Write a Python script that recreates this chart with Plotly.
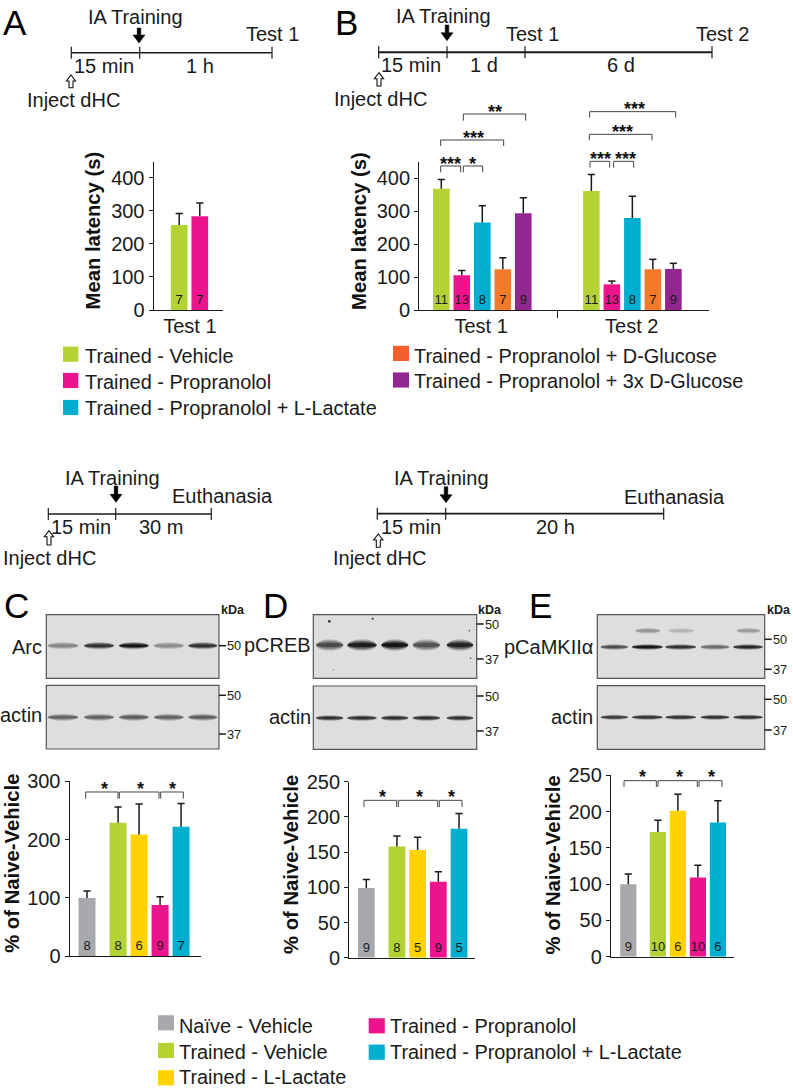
import plotly.graph_objects as go

W, H = 793, 1089
FONT = "Liberation Sans"
GREEN, PINK, BLUE, ORANGE, PURPLE, YELLOW, GRAY = (
    "#B3D335", "#EC148C", "#00AECF", "#F47A2A", "#92278F", "#FFD200", "#A7A9AC")

# ---- data -----------------------------------------------------------------
a_means = [257, 284]
a_sems = [35, 40]
a_ns = [7, 7]
a_colors = [GREEN, PINK]

b_means = [369, 106, 266, 124, 294, 362, 78, 280, 124, 125]
b_sems = [28, 14, 51, 35, 47, 50, 10, 66, 30, 17]
b_ns = [11, 13, 8, 7, 9, 11, 13, 8, 7, 9]
b_colors = [GREEN, PINK, BLUE, ORANGE, PURPLE] * 2

c_means = [100, 229, 209, 88, 222]
c_sems = [12, 27, 52, 14, 40]
c_ns = [8, 8, 6, 9, 7]

d_means = [99, 158, 153, 108, 183]
d_sems = [12, 15, 18, 14, 22]
d_ns = [9, 8, 5, 9, 5]

e_means = [100, 172, 201, 109, 185]
e_sems = [14, 16, 23, 17, 30]
e_ns = [9, 10, 6, 10, 6]

cde_colors = [GRAY, GREEN, YELLOW, PINK, BLUE]

legend_top_left = ["Trained - Vehicle", "Trained - Propranolol", "Trained - Propranolol + L-Lactate"]
legend_top_right = ["Trained - Propranolol + D-Glucose", "Trained - Propranolol + 3x D-Glucose"]
legend_bot_left = ["Naïve - Vehicle", "Trained - Vehicle", "Trained - L-Lactate"]
legend_bot_right = ["Trained - Propranolol", "Trained - Propranolol + L-Lactate"]

# blot lane intensities (0 = absent, 1 = darkest)
arc_lanes = [0.42, 0.85, 1.0, 0.38, 0.85]
c_actin_lanes = [0.6, 0.6, 0.62, 0.6, 0.62]
creb_lanes = [0.72, 0.95, 1.0, 0.68, 0.92]
d_actin_lanes = [0.85, 0.85, 0.85, 0.85, 0.85]
camk_lanes = [0.7, 1.0, 0.85, 0.55, 0.9]
camk_upper_lanes = [0.0, 0.35, 0.18, 0.0, 0.32]
e_actin_lanes = [0.8, 0.85, 0.85, 0.85, 0.85]

# ---- helpers ---------------------------------------------------------------
fig = go.Figure()
shapes, annots = [], []


def X(x):
    return x / W


def Y(y):
    return 1 - y / H


def text(x, y, s, size=20, anchor="center", bold=False, color="#1a1a1a"):
    annots.append(dict(x=X(x), y=Y(y), xref="paper", yref="paper", text=f"<b>{s}</b>" if bold else s,
                       showarrow=False, xanchor=anchor, yanchor="middle",
                       font=dict(family=FONT, size=size, color=color), borderpad=0, borderwidth=0))


def vtext(x, y, s):
    annots.append(dict(x=X(x), y=Y(y), xref="paper", yref="paper", text=f"<b>{s}</b>", textangle=-90,
                       showarrow=False, xanchor="center", yanchor="middle",
                       font=dict(family=FONT, size=20.3, color="#111")))


def poly(pts, fill=None, line="#1a1a1a", width=1.0, close=True, opacity=None):
    d = "M " + " L ".join(f"{X(a):.5f},{Y(b):.5f}" for a, b in pts) + (" Z" if close else "")
    s = dict(type="path", path=d, xref="paper", yref="paper", line=dict(color=line, width=width))
    if fill:
        s["fillcolor"] = fill
    if opacity is not None:
        s["opacity"] = opacity
    shapes.append(s)


def seg(x0, y0, x1, y1, color="#1a1a1a", width=1.5):
    shapes.append(dict(type="line", x0=X(x0), y0=Y(y0), x1=X(x1), y1=Y(y1), xref="paper", yref="paper",
                       line=dict(color=color, width=width)))


def rect(x0, y0, x1, y1, fill, line=None, width=0):
    shapes.append(dict(type="rect", x0=X(x0), y0=Y(y0), x1=X(x1), y1=Y(y1), xref="paper", yref="paper",
                       fillcolor=fill, line=dict(color=line or fill, width=width)))


def black_arrow(x, y0, y1):
    h = y1 - 8
    poly([(x - 1.8, y0), (x + 1.8, y0), (x + 1.8, h), (x + 6, h), (x, y1), (x - 6, h), (x - 1.8, h)],
         fill="#000", line="#000", width=0.5)


def white_arrow(x, y0, y1):
    h = y0 + 6
    poly([(x, y0), (x + 4.6, h), (x + 2, h), (x + 2, y1), (x - 2, y1), (x - 2, h), (x - 4.6, h)],
         fill="#fff", line="#111", width=1.1)


def timeline(y, xs, width, tick=6):
    seg(xs[0], y, xs[-1], y, width=width)
    for x in xs:
        seg(x, y - tick, x, y + tick, width=1.2)


def bracket(x0, x1, top, bot, stars=None, sx=None, sy=None):
    poly([(x0, bot), (x0, top), (x1, top), (x1, bot)], line="#444", width=1.0, close=False)
    if stars:
        text(sx, sy + 3.5, stars, size=18, bold=True, color="#111")


def band(x0, x1, yc, h, dark):
    if dark <= 0:
        return
    for k, op in ((1.25, 0.3), (0.85, 0.55), (0.45, 0.85)):
        hh = h * k / 2 * 1.33
        w = x1 - x0
        d = (f"M {X(x0):.5f},{Y(yc):.5f} "
             f"C {X(x0 + w * .03):.5f},{Y(yc - hh):.5f} {X(x1 - w * .03):.5f},{Y(yc - hh):.5f} {X(x1):.5f},{Y(yc):.5f} "
             f"C {X(x1 - w * .03):.5f},{Y(yc + hh):.5f} {X(x0 + w * .03):.5f},{Y(yc + hh):.5f} {X(x0):.5f},{Y(yc):.5f} Z")
        g = int(215 - 205 * dark)
        shapes.append(dict(type="path", path=d, xref="paper", yref="paper", fillcolor=f"rgb({g},{g},{g})",
                           opacity=op, line=dict(width=0)))


def blot(x0, y0, x1, y1, lanes, yc, h, vals):
    rect(x0, y0, x1, y1, "#DEDEDE", line="#555", width=1.2)
    for (a, b), v in zip(lanes, vals):
        band(a, b, yc, h, v)


def mw(xe, y, s):
    seg(xe, y, xe + 7, y, width=1.5)
    text(xe + 8, y, s, size=12.8, anchor="left")


axis_count = [0]


def panel(means, sems, ns, colors, slots, left, right, first, unit, top, bottom, ymax, yticks,
          xticks=None, xtext=None, minor=None):
    axis_count[0] += 1
    i = axis_count[0]
    xa, ya = ("x", "y") if i == 1 else (f"x{i}", f"y{i}")
    fig.add_trace(go.Bar(x=slots, y=means, width=0.81, marker=dict(color=colors, line=dict(width=0)),
                         text=[str(n) for n in ns], textposition="inside", insidetextanchor="start",
                         textangle=0, constraintext="none",
                         insidetextfont=dict(family=FONT, size=13, color="#1a1a1a"),
                         xaxis=xa, yaxis=ya, showlegend=False, hoverinfo="skip"))
    # upper-only error bars: a stem from the mean and a cap, no lower cap
    cap = 3.6 / unit
    ex, ey = [], []
    for s, m, e in zip(slots, means, sems):
        ex += [s, s, None, s - cap, s + cap, None]
        ey += [m, m + e, None, m + e, m + e, None]
    fig.add_trace(go.Scatter(x=ex, y=ey, mode="lines", line=dict(color="#1a1a1a", width=1.5),
                             xaxis=xa, yaxis=ya, showlegend=False, hoverinfo="skip", connectgaps=False))
    xkey = "xaxis" if i == 1 else f"xaxis{i}"
    ykey = "yaxis" if i == 1 else f"yaxis{i}"
    xopt = dict(domain=[X(left), X(right)], range=[(left - first) / unit, (right - first) / unit],
                anchor=ya, showgrid=False, zeroline=False, showline=True, linecolor="#1a1a1a", linewidth=1.4,
                ticks="", fixedrange=True, automargin=False, ticklabelstandoff=-2,
                tickfont=dict(family=FONT, size=20, color="#1a1a1a"))
    if xticks:
        xopt.update(tickmode="array", tickvals=xticks, ticktext=xtext)
    else:
        xopt.update(showticklabels=False)
    if minor:
        xopt["minor"] = dict(tickmode="array", tickvals=minor, ticks="outside", ticklen=7, tickwidth=1.4,
                             tickcolor="#1a1a1a")
    yopt = dict(domain=[Y(bottom), Y(top)], range=[0, ymax], anchor=xa, showgrid=False, zeroline=False,
                showline=True, linecolor="#1a1a1a", linewidth=1.4, ticks="outside", ticklen=4, tickwidth=1.4,
                tickcolor="#1a1a1a", tickmode="array", tickvals=yticks, fixedrange=True, automargin=False,
                tickfont=dict(family=FONT, size=20, color="#1a1a1a"))
    fig.update_layout({xkey: xopt, ykey: yopt})


# ---- panels ----------------------------------------------------------------
panel(a_means, a_sems, a_ns, a_colors, [0, 1], 153.7, 223, 179.2, 20.6, 162.3, 310, 447.0,
      [0, 100, 200, 300, 400], xticks=[0.52], xtext=["Test 1"])
panel(b_means, b_sems, b_ns, b_colors, [0, 1, 2, 3, 4, 7.32, 8.32, 9.32, 10.32, 11.32],
      419.3, 709, 441.3, 20.5, 161.7, 310, 451.0, [0, 100, 200, 300, 400],
      xticks=[1.94, 9.29], xtext=["Test 1", "Test 2"], minor=[5.68])
CDE_SLOTS = [0, 1.48, 2.48, 3.48, 4.48]
panel(c_means, c_sems, c_ns, cde_colors, CDE_SLOTS, 69.7, 200.7, 87, 21, 781.3, 956.3, 300, [0, 100, 200, 300])
panel(d_means, d_sems, d_ns, cde_colors, CDE_SLOTS, 349.3, 474.7, 366.3, 20.7, 781.7, 957.7, 250,
      [0, 50, 100, 150, 200, 250])
panel(e_means, e_sems, e_ns, cde_colors, CDE_SLOTS, 611, 733.7, 628.3, 20, 775.3, 956.7, 250,
      [0, 50, 100, 150, 200, 250])

vtext(92.5, 231, "Mean latency (s)")
vtext(359, 231, "Mean latency (s)")
vtext(12.5, 863.3, "% of Naive-Vehicle")
vtext(291, 865, "% of Naive-Vehicle")
vtext(552.5, 865, "% of Naive-Vehicle")

# ---- panel letters ---------------------------------------------------------
for px, py, letter in [(15, 22.7, "A"), (346.7, 22.7, "B"), (16.7, 605, "C"), (275, 605, "D"), (540.7, 605, "E")]:
    text(px, py, letter, size=35, color="#000")

# ---- timelines -------------------------------------------------------------
timeline(52.7, [71.3, 139.7, 272], 1.5)
black_arrow(139, 28, 43)
white_arrow(71, 75, 87.7)
text(135.7, 16.7, "IA Training")
text(272, 34, "Test 1")
text(104, 65.7, "15 min")
text(200, 65.7, "1 h")
text(73, 100, "Inject dHC")

timeline(52.3, [378.7, 447, 525, 712], 2)
black_arrow(447, 25, 40.7)
white_arrow(379, 72.7, 86)
text(443.3, 15.7, "IA Training")
text(532.3, 34.3, "Test 1")
text(722, 34.3, "Test 2")
text(411, 64.7, "15 min")
text(484.3, 64.7, "1 d")
text(621.3, 64.7, "6 d")
text(380.7, 99.3, "Inject dHC")

timeline(514, [48.3, 115.7, 211.3], 1.5)
black_arrow(116, 486, 502.3)
white_arrow(49, 530.7, 545)
text(112.3, 477.7, "IA Training")
text(222.3, 496, "Euthanasia")
text(81, 526.7, "15 min")
text(161, 526.7, "30 m")
text(49.3, 558.3, "Inject dHC")

timeline(513.7, [377.3, 445.7, 663.7], 1.8)
black_arrow(446, 486.7, 502.7)
white_arrow(378.3, 534, 547.3)
text(442, 478.3, "IA Training")
text(674.3, 496.7, "Euthanasia")
text(410.7, 527.3, "15 min")
text(555, 527.3, "20 h")
text(379.3, 558.3, "Inject dHC")

# ---- significance brackets -------------------------------------------------
zb = lambda v: 320 + v / 3
for x0, x1, top, bot, st, sx, sy in [
    (362, 422, 498, 517, "***", 391, 483), (430, 488, 498, 517, "*", 459, 483),
    (362, 551, 420, 438, "***", 460, 403), (430, 617, 342, 362, "**", 525, 326),
    (810, 869, 484, 503, "***", 840, 467), (881, 941, 484, 503, "***", 915, 467),
    (808, 996, 403, 421, "***", 907, 386), (809, 1067, 335, 353, "***", 944, 318)]:
    bracket(zb(x0), zb(x1), top / 3, bot / 3, st, zb(sx), sy / 3)

for ox, oy, top, bot, sy, items in [
    (0, 580, 636, 656, 617, [(257, 354, 312), (358, 477, 421), (482, 550, 518)]),
    (260, 590, 631, 651, 611, [(312, 410, 367), (415, 533, 478), (538, 606, 575)]),
    (510, 590, 572, 591, 551, [(342, 439, 398), (444, 562, 507), (567, 636, 605)])]:
    for x0, x1, sx in items:
        bracket(ox + x0 / 3, ox + x1 / 3, oy + top / 3, oy + bot / 3, "*", ox + sx / 3, oy + sy / 3)

# ---- blots -----------------------------------------------------------------
c_l = [(47.7, 78.3), (84, 114), (119, 148.7), (153.7, 183.7), (188.3, 217.3)]
blot(46.3, 614.7, 219, 678.3, c_l, 645.7, 5.5, arc_lanes)
blot(46.3, 685.3, 219, 749, c_l, 717.3, 5.5, c_actin_lanes)
mw(219, 645.7, "50")
mw(219, 695.3, "50")
mw(219, 734, "37")
text(233, 610, "kDa", size=12.5, bold=True)
text(42.3, 646.7, "Arc", anchor="right")
text(41.7, 715, "actin", anchor="right")

d_l = [(316, 343.3), (347.3, 376.7), (381.3, 408.3), (412.7, 440), (446.7, 473.3)]
blot(313.3, 614.7, 476.7, 678.3, d_l, 645, 9, creb_lanes)
blot(313.3, 686, 476.7, 749.3, d_l, 718, 4.5, d_actin_lanes)
for dx, dy, ds in [(329.3, 621.3, 1.4), (372.7, 618.7, 1), (469.3, 630.7, 0.7), (470.7, 658.3, 0.7), (333.3, 670, 0.6)]:
    shapes.append(dict(type="circle", x0=X(dx - ds), x1=X(dx + ds), y0=Y(dy - ds), y1=Y(dy + ds), xref="paper",
                       yref="paper", fillcolor="#333", line=dict(width=0)))
mw(476.7, 624, "50")
mw(476.7, 659, "37")
mw(476.7, 696, "50")
mw(476.7, 731, "37")
text(490.3, 610, "kDa", size=12.5, bold=True)
text(311.3, 645, "pCREB", anchor="right")
text(311, 717.3, "actin", anchor="right")

e_l = [(600.7, 628), (632, 662.7), (665.3, 696), (700.7, 729.3), (733.3, 762.7)]
blot(597.3, 614.7, 764.7, 678.3, e_l, 647, 4.5, camk_lanes)
for (a, b), v in zip(e_l, camk_upper_lanes):
    band(a + 3.5, b - 2.5, 630.7, 4.5, v)
blot(597.3, 685.7, 764.7, 749.3, e_l, 717.3, 4.2, e_actin_lanes)
mw(764.7, 639.3, "50")
mw(764.7, 669.3, "37")
mw(764.7, 699.3, "50")
mw(764.7, 730, "37")
text(779, 610, "kDa", size=12.5, bold=True)
text(592.7, 646.7, "pCaMKIIα", anchor="right")
text(593.3, 717.3, "actin", anchor="right")


# ---- manual legends --------------------------------------------------------
def legend(labels, colors, sx0, sx1, tx, centers, syc):
    for s, c, yc, sc in zip(labels, colors, centers, syc):
        rect(sx0, sc - 7.6, sx1, sc + 7.6, c)
        text(tx, yc, s, anchor="left", size=19.9)


legend(legend_top_left, [GREEN, PINK, BLUE], 63, 78.3, 84.8, [355.7, 381.7, 408.3], [354.2, 380.5, 407.5])
legend(legend_top_right, ["#F15F2A", PURPLE], 393, 409, 413.8, [355.7, 381], [353.4, 380])
legend(legend_bot_left, [GRAY, GREEN, YELLOW], 158, 174, 179.4, [1026, 1051.7, 1077.3], [1022.8, 1050.5, 1077.8])
legend(legend_bot_right, [PINK, BLUE], 368.7, 384.8, 389.8, [1025.7, 1051.7], [1025.8, 1052.2])

fig.update_layout(width=W, height=H, margin=dict(l=0, r=0, t=0, b=0, autoexpand=False), paper_bgcolor="white",
                  plot_bgcolor="rgba(0,0,0,0)", shapes=shapes, annotations=annots, hovermode=False,
                  font=dict(family=FONT), barmode="overlay")
fig.write_html("out.html", config=dict(displayModeBar=False),
               post_script="document.body.style.margin='0';document.documentElement.style.overflow='hidden';")
